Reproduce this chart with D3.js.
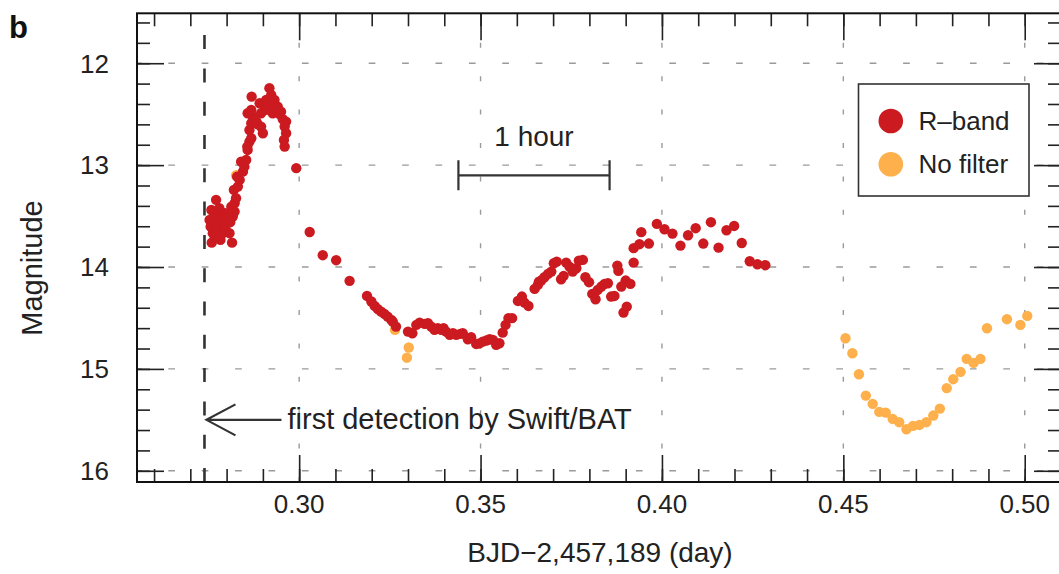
<!DOCTYPE html>
<html>
<head>
<meta charset="utf-8">
<script src="https://cdn.jsdelivr.net/npm/d3@7"></script>
<style>
  html, body { margin: 0; padding: 0; background: #fff; }
  svg { display: block; font-family: "Liberation Sans", Arial, Helvetica, sans-serif; }
</style>
</head>
<body>
<svg id="chart" width="1059" height="574"></svg>
<script>
// R-band photometry: [BJD-2,457,189 (day), magnitude]
const rBand = [
  [0.2759,13.761],[0.2783,13.734],[0.2815,13.761],[0.2771,13.341],[0.2758,13.440],[0.2753,13.538],
  [0.2756,13.604],[0.2762,13.668],[0.2776,13.636],[0.2790,13.604],[0.2803,13.570],[0.2817,13.505],
  [0.2822,13.456],[0.2794,13.472],[0.2780,13.423],[0.2767,13.472],[0.2776,13.538],[0.2799,13.653],
  [0.2808,13.668],[0.2785,13.685],[0.2767,13.702],[0.2813,13.407],[0.2803,13.472],[0.2790,13.538],
  [0.2785,13.500],[0.2799,13.520],[0.2810,13.560],[0.2772,13.580],[0.2795,13.600],[0.2762,13.520],
  [0.2822,13.374],[0.2826,13.325],[0.2820,13.243],[0.2831,13.211],[0.2836,13.145],[0.2829,13.113],
  [0.2845,13.064],[0.2849,13.015],[0.2840,12.966],[0.2854,12.949],[0.2858,12.851],[0.2863,12.769],
  [0.2857,12.818],[0.2868,12.736],[0.2863,12.655],[0.2858,12.491],[0.2868,12.458],[0.2872,12.524],
  [0.2868,12.589],[0.2882,12.573],[0.2895,12.622],[0.2900,12.687],[0.2869,12.328],[0.2891,12.393],
  [0.2895,12.491],[0.2909,12.360],[0.2918,12.245],[0.2923,12.311],[0.2932,12.360],[0.2941,12.426],
  [0.2927,12.491],[0.2950,12.475],[0.2937,12.442],[0.2909,12.458],[0.2964,12.573],[0.2960,12.622],
  [0.2964,12.687],[0.2958,12.753],[0.2960,12.818],[0.2877,12.550],[0.2886,12.600],[0.2904,12.420],
  [0.2914,12.400],[0.2928,12.420],[0.2946,12.500],[0.2955,12.550],
  [0.2992,13.030],[0.3029,13.656],[0.3065,13.884],[0.3102,13.933],[0.3139,14.136],[0.3187,14.284],
  [0.3199,14.339],[0.3208,14.382],[0.3217,14.414],[0.3226,14.438],[0.3235,14.460],[0.3244,14.487],
  [0.3254,14.519],[0.3258,14.536],[0.3267,14.585],[0.3300,14.634],[0.3312,14.650],
  [0.3323,14.568],[0.3332,14.546],[0.3346,14.558],[0.3355,14.552],[0.3364,14.585],[0.3373,14.617],
  [0.3382,14.601],[0.3392,14.617],[0.3398,14.601],[0.3405,14.634],[0.3415,14.666],[0.3424,14.650],
  [0.3433,14.666],[0.3444,14.656],[0.3451,14.650],[0.3465,14.709],[0.3474,14.689],[0.3488,14.755],
  [0.3497,14.750],[0.3506,14.732],[0.3516,14.722],[0.3525,14.709],[0.3534,14.715],[0.3543,14.764],
  [0.3552,14.748],[0.3561,14.644],[0.3569,14.568],[0.3577,14.502],[0.3587,14.502],[0.3603,14.333],
  [0.3614,14.290],[0.3621,14.349],[0.3632,14.382],[0.3649,14.215],[0.3661,14.143],
  [0.3658,14.176],[0.3667,14.133],[0.3676,14.100],[0.3686,14.068],[0.3695,14.045],[0.3702,13.963],
  [0.3710,13.947],[0.3722,14.120],[0.3729,14.087],[0.3736,13.957],[0.3745,13.996],[0.3754,14.045],
  [0.3764,14.012],[0.3771,13.937],[0.3782,13.930],[0.3789,14.100],[0.3799,14.149],[0.3808,14.264],
  [0.3817,14.316],[0.3823,14.225],[0.3833,14.192],[0.3842,14.166],[0.3851,14.159],[0.3860,14.290],
  [0.3869,14.284],[0.3877,13.986],[0.3880,14.038],[0.3888,14.192],[0.3894,14.447],[0.3903,14.389],
  [0.3900,14.133],[0.3913,14.166],[0.3922,13.957],[0.3922,13.815],[0.3938,13.776],[0.3943,13.658],
  [0.3964,13.770],[0.3986,13.577],[0.4007,13.629],[0.4029,13.672],[0.4051,13.790],[0.4072,13.688],
  [0.4093,13.619],[0.4114,13.770],[0.4135,13.560],[0.4156,13.810],[0.4178,13.639],[0.4199,13.597],
  [0.4220,13.764],[0.4242,13.943],[0.4263,13.973],[0.4285,13.982]
];

// Unfiltered photometry: [BJD-2,457,189 (day), magnitude]
const noFilter = [
  [0.2826,13.100],[0.3264,14.617],[0.3302,14.790],[0.3297,14.890],
  [0.4506,14.699],[0.4525,14.846],[0.4543,15.052],[0.4562,15.262],[0.4581,15.343],[0.4599,15.422],
  [0.4617,15.429],[0.4636,15.491],[0.4654,15.523],[0.4674,15.592],[0.4692,15.559],[0.4710,15.550],
  [0.4729,15.523],[0.4748,15.458],[0.4766,15.390],[0.4785,15.189],[0.4803,15.101],[0.4823,15.029],
  [0.4840,14.902],[0.4859,14.941],[0.4878,14.902],[0.4896,14.601],[0.4951,14.512],[0.4988,14.568],
  [0.5007,14.480]
];

const xMajorTicks = [0.30, 0.35, 0.40, 0.45, 0.50];
const xTickLabels = ["0.30", "0.35", "0.40", "0.45", "0.50"];
const yMajorTicks = [12, 13, 14, 15, 16];
const yTickLabels = ["12", "13", "14", "15", "16"];
const xMinorTicks = d3.range(26, 51).map(d => d / 100);
const yMinorTicks = d3.range(58, 81).map(d => d / 5);

const detectionTime = 0.2739;      // Swift/BAT trigger
const hourBarStart = 0.3439;       // scale bar, one hour long
const hourBarLength = 1 / 24;
const hourBarMag = 13.1;
const arrowMag = 15.5;

const seriesNames = ["R\u2013band", "No filter"];
const seriesColors = ["#cb1a20", "#fdb04b"];

const svg = d3.select("#chart");
const plotL = 137, plotR = 1061, plotT = 13.3, plotB = 482;

const x = d3.scaleLinear().domain([0.2553, 0.51]).range([plotL, plotR]);
const y = d3.scaleLinear().domain([11.51, 16.11]).range([plotT, plotB]);

// dashed grid
const grid = svg.append("g").attr("stroke", "#9a9a9a").attr("stroke-width", 1.4);
grid.selectAll("line.h").data(yMajorTicks).join("line").attr("class", "h")
  .attr("x1", plotL).attr("x2", plotR)
  .attr("y1", d => y(d)).attr("y2", d => y(d))
  .attr("stroke-dasharray", "6.7,26.7").attr("stroke-dashoffset", 2.1);
grid.selectAll("line.v").data(xMajorTicks).join("line").attr("class", "v")
  .attr("x1", d => x(d)).attr("x2", d => x(d))
  .attr("y1", plotB).attr("y2", plotT)
  .attr("stroke-dasharray", "5,28.4");

// ticks on all four sides, pointing inward
function styleAxis(g) {
  g.select(".domain").remove();
  g.selectAll(".tick line").attr("stroke", "#222").attr("stroke-width", 1.6);
  g.selectAll(".tick text").remove();
}
const majorLen = 27, minorLen = 13;
svg.append("g").attr("transform", `translate(${plotL},0)`)
  .call(d3.axisLeft(y).tickValues(yMinorTicks).tickSize(-minorLen)).call(styleAxis);
svg.append("g").attr("transform", `translate(${plotL},0)`)
  .call(d3.axisLeft(y).tickValues(yMajorTicks).tickSize(-majorLen)).call(styleAxis);
svg.append("g").attr("transform", `translate(${plotR},0)`)
  .call(d3.axisRight(y).tickValues(yMinorTicks).tickSize(-minorLen)).call(styleAxis);
svg.append("g").attr("transform", `translate(${plotR},0)`)
  .call(d3.axisRight(y).tickValues(yMajorTicks).tickSize(-majorLen)).call(styleAxis);
svg.append("g").attr("transform", `translate(0,${plotB})`)
  .call(d3.axisBottom(x).tickValues(xMinorTicks).tickSize(-minorLen)).call(styleAxis);
svg.append("g").attr("transform", `translate(0,${plotB})`)
  .call(d3.axisBottom(x).tickValues(xMajorTicks).tickSize(-majorLen)).call(styleAxis);
svg.append("g").attr("transform", `translate(0,${plotT})`)
  .call(d3.axisTop(x).tickValues(xMinorTicks).tickSize(-minorLen)).call(styleAxis);
svg.append("g").attr("transform", `translate(0,${plotT})`)
  .call(d3.axisTop(x).tickValues(xMajorTicks).tickSize(-majorLen)).call(styleAxis);

// tick labels
svg.append("g").selectAll("text").data(yMajorTicks).join("text")
  .attr("x", 109).attr("y", d => y(d)).attr("dy", "0.36em")
  .attr("text-anchor", "end").attr("font-size", 26).attr("fill", "#222")
  .text((d, i) => yTickLabels[i]);
svg.append("g").selectAll("text").data(xMajorTicks).join("text")
  .attr("x", d => x(d)).attr("y", 513)
  .attr("text-anchor", "middle").attr("font-size", 26).attr("fill", "#222")
  .text((d, i) => xTickLabels[i]);

// axis titles and panel letter
svg.append("text").attr("x", 600).attr("y", 562).attr("text-anchor", "middle")
  .attr("font-size", 28).attr("fill", "#222").text("BJD\u22122,457,189 (day)");
svg.append("text").attr("transform", "translate(42,268) rotate(-90)").attr("text-anchor", "middle")
  .attr("font-size", 29).attr("fill", "#222").text("Magnitude");
svg.append("text").attr("x", 9).attr("y", 38).attr("font-size", 31).attr("font-weight", "bold")
  .attr("fill", "#111").text("b");

// first detection marker
svg.append("line")
  .attr("x1", x(detectionTime)).attr("x2", x(detectionTime))
  .attr("y1", plotB).attr("y2", 33)
  .attr("stroke", "#333").attr("stroke-width", 2.6).attr("stroke-dasharray", "14,19.3");
const ax = x(detectionTime) + 2, ay = y(arrowMag);
svg.append("path")
  .attr("d", `M${ax},${ay}H${ax + 75}M${ax + 29},${ay - 15.5}L${ax},${ay}L${ax + 29},${ay + 15.5}`)
  .attr("fill", "none").attr("stroke", "#333").attr("stroke-width", 2.2);
svg.append("text").attr("x", ax + 81).attr("y", ay + 9).attr("font-size", 29).attr("fill", "#222")
  .text("first detection by Swift/BAT");

// one-hour scale bar
const hx0 = x(hourBarStart), hx1 = x(hourBarStart + hourBarLength), hy = y(hourBarMag);
svg.append("path")
  .attr("d", `M${hx0},${hy}H${hx1}M${hx0},${hy - 15}V${hy + 15}M${hx1},${hy - 15}V${hy + 15}`)
  .attr("fill", "none").attr("stroke", "#333").attr("stroke-width", 2.2);
svg.append("text").attr("x", (hx0 + hx1) / 2).attr("y", hy - 29).attr("text-anchor", "middle")
  .attr("font-size", 28).attr("fill", "#222").text("1 hour");

// data points
svg.append("g").selectAll("circle").data(noFilter).join("circle")
  .attr("cx", d => x(d[0])).attr("cy", d => y(d[1])).attr("r", 5.2).attr("fill", seriesColors[1]);
svg.append("g").selectAll("circle").data(rBand).join("circle")
  .attr("cx", d => x(d[0])).attr("cy", d => y(d[1])).attr("r", 5.2).attr("fill", seriesColors[0]);

// frame
svg.append("rect").attr("x", plotL).attr("y", plotT).attr("width", plotR - plotL).attr("height", plotB - plotT)
  .attr("fill", "none").attr("stroke", "#111").attr("stroke-width", 2);

// legend
const lg = svg.append("g").attr("transform", "translate(858.5,84)");
lg.append("rect").attr("width", 170.5).attr("height", 112).attr("fill", "#fff")
  .attr("stroke", "#333").attr("stroke-width", 1.6);
seriesNames.forEach((name, i) => {
  lg.append("circle").attr("cx", 32.3).attr("cy", 37 + i * 43.3).attr("r", 12.3).attr("fill", seriesColors[i]);
  lg.append("text").attr("x", 60).attr("y", 46 + i * 43.3).attr("font-size", 26).attr("fill", "#222").text(name);
});
</script>
</body>
</html>
